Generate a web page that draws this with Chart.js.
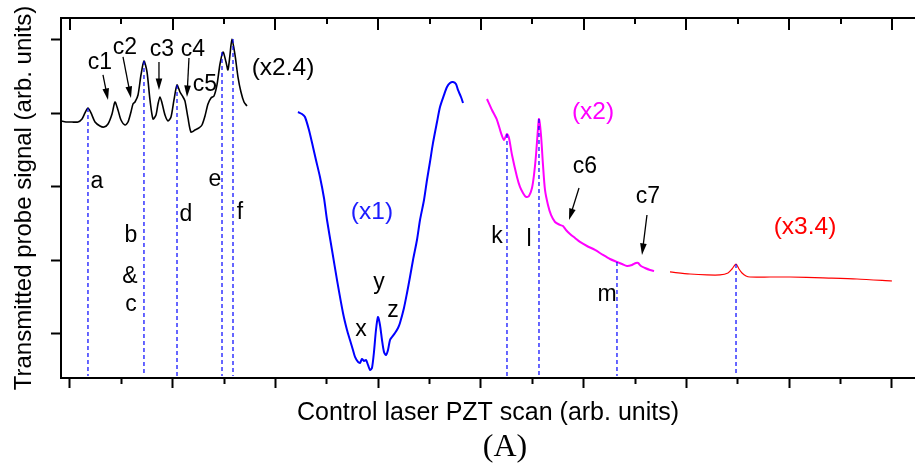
<!DOCTYPE html>
<html>

<head>
    <meta charset="UTF-8">
    <title>Transmitted probe signal vs control laser PZT scan</title>
    <style>
        body {
            margin: 0;
            background: white;
        }
    </style>
</head>

<body>
    <canvas id="myChart" width="915" height="467"></canvas>

    <script src="https://cdn.jsdelivr.net/npm/chart.js"></script>
    <script>
        // tick positions (no labels shown on either axis)
        const scanTicks = [0, 10, 20, 30, 40, 50, 60, 70, 80, 90, 100, 110, 120, 130, 140, 150, 160];
        const signalTicks = [0, 10, 20, 30, 40];

        // black trace (x2.4)
        const blackScan = [-1.75, -0.78, 0.39, 1.56, 2.34, 2.92, 3.50, 4.09, 4.87, 5.84, 6.62, 7.40, 8.18, 8.76, 9.34, 9.93, 10.71, 11.29, 11.87, 12.26, 12.65, 13.24, 13.82, 14.40, 14.99, 15.57, 16.16, 16.74, 17.13, 17.52, 17.91, 18.49, 19.08, 19.66, 20.24, 20.83, 21.41, 22.00, 22.38, 22.97, 23.55, 24.33, 25.11, 25.69, 26.28, 26.86, 27.45, 28.03, 28.61, 29.20, 29.78, 30.37, 30.75, 31.14, 31.53, 32.12, 32.70, 33.28, 33.87, 34.45];
        const blackSignal = [28.98, 28.84, 28.84, 28.84, 29.25, 30.07, 30.75, 30.07, 28.84, 28.30, 28.16, 28.57, 29.93, 31.56, 30.48, 29.11, 28.43, 28.84, 30.20, 31.29, 31.56, 32.52, 35.24, 37.14, 35.65, 31.84, 29.25, 29.79, 31.29, 32.24, 31.43, 29.79, 28.98, 29.52, 31.84, 33.88, 32.92, 32.24, 31.70, 29.39, 27.48, 27.75, 28.03, 28.43, 29.66, 31.29, 32.11, 32.38, 33.88, 36.73, 38.37, 37.01, 35.92, 37.96, 40.13, 37.96, 34.96, 32.92, 31.56, 31.02];

        // blue trace (x1)
        const blueScan = [44.38, 45.16, 45.74, 46.52, 47.30, 47.88, 48.66, 49.44, 50.03, 51.00, 51.97, 53.14, 53.92, 54.50, 55.08, 55.48, 56.06, 56.45, 56.84, 57.23, 57.62, 58.01, 58.40, 58.78, 59.17, 59.56, 59.95, 60.34, 60.73, 61.12, 61.51, 61.90, 62.29, 62.68, 63.26, 63.85, 64.23, 65.01, 65.60, 66.18, 66.77, 67.54, 68.13, 68.91, 69.49, 70.07, 70.66, 71.44, 72.02, 72.80, 73.38, 73.97, 74.55, 75.13, 75.52, 76.11, 76.50];
        const blueSignal = [30.20, 29.93, 29.52, 27.75, 25.44, 23.67, 21.36, 18.50, 15.51, 11.43, 7.35, 2.86, 0.54, -0.82, -2.18, -3.13, -3.81, -3.95, -3.40, -3.67, -3.54, -4.22, -4.90, -4.63, -2.45, 0.54, 2.31, 1.22, -0.82, -2.45, -2.86, -2.18, -0.82, -0.41, 0.14, 0.82, 1.50, 3.54, 5.58, 7.75, 10.07, 12.79, 15.51, 18.23, 20.95, 23.40, 25.99, 28.84, 30.88, 32.52, 33.60, 34.15, 34.28, 34.01, 33.20, 32.24, 31.43];

        // magenta trace (x2)
        const magentaScan = [81.17, 82.14, 83.12, 83.89, 84.48, 85.06, 85.45, 86.04, 87.01, 87.59, 88.18, 88.76, 89.34, 89.93, 90.32, 90.71, 91.10, 91.29, 91.68, 92.07, 92.46, 93.04, 93.63, 94.41, 95.38, 95.96, 96.55, 97.33, 98.30, 99.27, 100.63, 102.19, 103.75, 105.11, 106.47, 107.45, 108.42, 109.39, 110.17, 110.56, 111.14, 111.92, 112.90, 113.68];
        const magentaSignal = [31.97, 30.48, 29.11, 27.35, 26.39, 27.21, 26.67, 24.35, 21.36, 20.00, 19.18, 18.64, 18.77, 19.86, 21.63, 24.35, 28.03, 29.25, 27.07, 22.99, 19.59, 17.55, 16.19, 15.24, 14.83, 14.69, 14.15, 13.61, 13.06, 12.52, 11.97, 11.43, 10.75, 10.20, 9.80, 9.52, 9.25, 9.39, 9.66, 9.66, 9.25, 8.98, 8.71, 8.57];

        // red trace (x3.4)
        const redScan = [116.79, 120.68, 123.99, 126.52, 128.08, 128.86, 129.64, 130.22, 130.81, 131.59, 132.36, 136.26, 140.15, 146.57, 153.19, 160.00];
        const redSignal = [8.44, 8.16, 8.03, 8.03, 8.30, 8.84, 9.52, 8.84, 8.30, 7.89, 7.75, 7.75, 7.75, 7.62, 7.48, 7.21];

        // dashed marker lines from the peaks down to the axis
        const markerScan = [3.50, 14.40, 20.83, 29.59, 31.73, 85.06, 91.29, 106.47, 129.64];
        const markerTop = [30.75, 37.14, 33.88, 38.37, 40.13, 27.21, 29.25, 9.80, 9.52];
        const markerFoot = -5.71;

        // text notes
        const noteText = ['a', 'b', '&', 'c', 'd', 'e', 'f', 'c1', 'c2', 'c3', 'c4', 'c5', '(x2.4)', 'x', 'y', 'z', '(x1)', 'k', 'l', 'm', 'c6', 'c7', '(x2)', '(x3.4)'];
        const noteScan = [5.26, 11.87, 11.68, 11.87, 22.58, 28.22, 33.09, 5.84, 10.71, 17.91, 23.94, 26.28, 41.46, 56.64, 60.15, 62.87, 58.78, 83.12, 89.34, 104.53, 100.24, 112.51, 101.80, 143.07];
        const noteSignal = [20.68, 13.33, 7.75, 3.95, 16.19, 20.95, 16.46, 36.87, 38.91, 38.64, 38.64, 33.88, 36.19, 0.54, 6.94, 3.13, 16.60, 13.20, 12.79, 5.31, 22.72, 18.64, 30.20, 14.56];
        const noteColor = ['#000', '#000', '#000', '#000', '#000', '#000', '#000', '#000', '#000', '#000', '#000', '#000', '#000', '#000', '#000', '#000', '#1c1cff', '#000', '#000', '#000', '#000', '#000', '#ff00ff', '#ff0000'];

        // arrows for c1..c4, c6, c7
        const arrowScanFrom = [6.42, 10.32, 17.32, 23.16, 99.08, 112.31];
        const arrowSignalFrom = [35.24, 37.69, 37.01, 37.55, 19.86, 16.19];
        const arrowScanTo = [7.40, 11.87, 17.32, 22.77, 97.13, 111.34];
        const arrowSignalTo = [31.84, 32.11, 33.20, 32.24, 15.51, 10.75];

        function toPoints(xs, ys) {
            return xs.map((v, i) => ({ x: v, y: ys[i] }));
        }

        const markerPoints = [];
        markerScan.forEach((v, i) => {
            markerPoints.push({ x: v, y: markerTop[i] });
            markerPoints.push({ x: v, y: markerFoot });
            markerPoints.push({ x: v, y: null });
        });

        const notesPlugin = {
            id: 'notes',
            afterDatasetsDraw(chart) {
                const ctx = chart.ctx;
                const xs = chart.scales.x;
                const ys = chart.scales.y;
                ctx.save();
                ctx.textAlign = 'center';
                ctx.textBaseline = 'middle';
                noteText.forEach((t, i) => {
                    ctx.font = (t.charAt(0) == '(' ? '24.5px' : '23px') + ' "Liberation Sans"';
                    ctx.fillStyle = noteColor[i];
                    ctx.fillText(t, xs.getPixelForValue(noteScan[i]), ys.getPixelForValue(noteSignal[i]));
                });

                ctx.strokeStyle = '#000';
                ctx.fillStyle = '#000';
                ctx.lineWidth = 1.3;
                arrowScanFrom.forEach((v, i) => {
                    const x1 = xs.getPixelForValue(v);
                    const y1 = ys.getPixelForValue(arrowSignalFrom[i]);
                    const x2 = xs.getPixelForValue(arrowScanTo[i]);
                    const y2 = ys.getPixelForValue(arrowSignalTo[i]);
                    const ang = Math.atan2(y2 - y1, x2 - x1);
                    ctx.beginPath();
                    ctx.moveTo(x1, y1);
                    ctx.lineTo(x2 - 8 * Math.cos(ang), y2 - 8 * Math.sin(ang));
                    ctx.stroke();
                    ctx.beginPath();
                    ctx.moveTo(x2, y2);
                    ctx.lineTo(x2 - 12 * Math.cos(ang - 0.28), y2 - 12 * Math.sin(ang - 0.28));
                    ctx.lineTo(x2 - 12 * Math.cos(ang + 0.28), y2 - 12 * Math.sin(ang + 0.28));
                    ctx.closePath();
                    ctx.fill();
                });

                // panel caption
                ctx.font = '32px "Liberation Serif"';
                ctx.fillText('(A)', (xs.left + xs.right) / 2 + 17, xs.bottom - 19);
                ctx.restore();
            }
        };

        Chart.defaults.font.family = '"Liberation Sans", Arial, sans-serif';
        Chart.defaults.color = '#000';

        function setTicks(values) {
            return function (axis) {
                axis.ticks = values.map(v => ({ value: v }));
            };
        }

        const myChart = new Chart(document.getElementById('myChart'), {
            type: 'line',
            data: {
                datasets: [{
                    data: markerPoints,
                    borderColor: '#0000ff',
                    borderWidth: 1.2,
                    borderDash: [4, 3],
                    pointRadius: 0,
                    spanGaps: false
                }, {
                    data: toPoints(blackScan, blackSignal),
                    borderColor: '#000',
                    borderWidth: 1.6,
                    pointRadius: 0,
                    tension: 0.25
                }, {
                    data: toPoints(blueScan, blueSignal),
                    borderColor: '#0000ff',
                    borderWidth: 2,
                    pointRadius: 0,
                    tension: 0.25
                }, {
                    data: toPoints(magentaScan, magentaSignal),
                    borderColor: '#ff00ff',
                    borderWidth: 2,
                    pointRadius: 0,
                    tension: 0.25
                }, {
                    data: toPoints(redScan, redSignal),
                    borderColor: '#ff0000',
                    borderWidth: 1.2,
                    pointRadius: 0,
                    tension: 0.25
                }]
            },
            options: {
                responsive: false,
                animation: false,
                events: [],
                layout: { padding: 0 },
                plugins: {
                    legend: { display: false },
                    tooltip: { enabled: false }
                },
                scales: {
                    x: {
                        type: 'linear',
                        position: 'bottom',
                        min: -1.75,
                        max: 164.48,
                        afterBuildTicks: setTicks(scanTicks),
                        afterFit: function (scale) { scale.height = 89; },
                        ticks: { display: false },
                        grid: {
                            drawOnChartArea: false,
                            tickLength: 10,
                            tickColor: '#000',
                            tickWidth: 2,
                            tickBorderDash: function (c) {
                                return c.tick && c.tick.value % 20 ? [5, 100] : [];
                            }
                        },
                        border: { color: '#000', width: 2 },
                        title: {
                            display: true,
                            text: 'Control laser PZT scan (arb. units)',
                            font: { size: 25 },
                            padding: { top: 0, bottom: 39 }
                        }
                    },
                    xTop: {
                        type: 'linear',
                        position: 'top',
                        min: -1.75,
                        max: 164.48,
                        afterBuildTicks: setTicks(scanTicks),
                        afterFit: function (scale) { scale.height = 18; },
                        ticks: { display: false },
                        grid: {
                            drawOnChartArea: true,
                            drawTicks: false,
                            color: '#000',
                            lineWidth: 2
                        },
                        border: {
                            color: '#000',
                            width: 2,
                            dash: function (c) {
                                if (!c.tick) return [];
                                return c.tick.value % 20 ? [5, 1000] : [11, 1000];
                            }
                        }
                    },
                    y: {
                        type: 'linear',
                        position: 'left',
                        min: -5.99,
                        max: 42.99,
                        afterBuildTicks: setTicks(signalTicks),
                        afterFit: function (scale) { scale.width = 61; },
                        ticks: { display: false },
                        grid: {
                            drawOnChartArea: false,
                            tickLength: 10,
                            tickColor: '#000',
                            tickWidth: 2
                        },
                        border: { color: '#000', width: 2 },
                        title: {
                            display: true,
                            text: 'Transmitted probe signal (arb. units)',
                            font: { size: 24 },
                            padding: { top: 10, bottom: 0 }
                        }
                    }
                }
            },
            plugins: [notesPlugin]
        });
    </script>
</body>

</html>
